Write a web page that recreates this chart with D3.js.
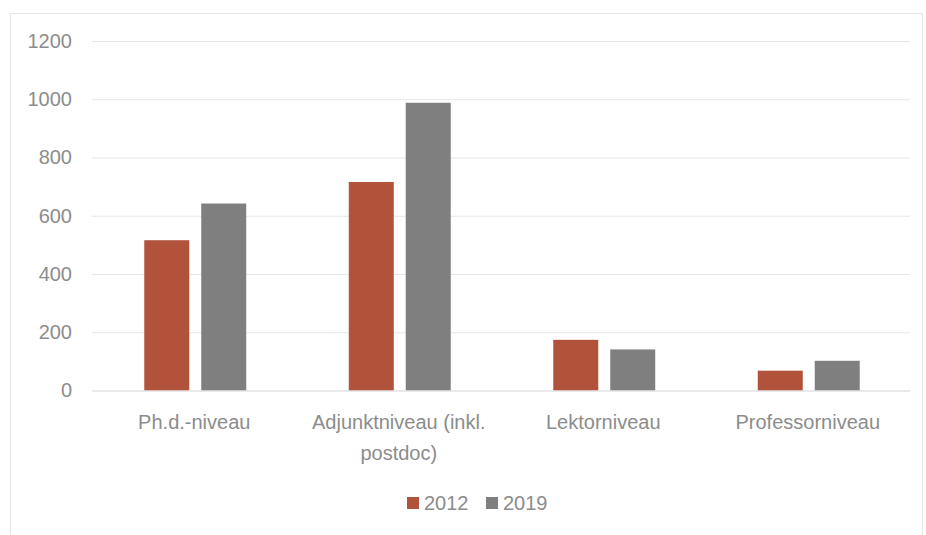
<!DOCTYPE html>
<html><head><meta charset="utf-8">
<script src="https://cdn.jsdelivr.net/npm/d3@7"></script>
<style>
html,body{margin:0;padding:0;background:#fff;}
svg{display:block;font-family:"Liberation Sans",Arial,sans-serif;}
</style></head>
<body>
<svg id="chart" width="926" height="535"></svg>
<script>
const categories = [["Ph.d.-niveau"], ["Adjunktniveau (inkl.", "postdoc)"], ["Lektorniveau"], ["Professorniveau"]];
const seriesNames = ["2012", "2019"];
const values2012 = [516, 716, 174, 68];
const values2019 = [642, 988, 141, 102];
const yTicks = [0, 200, 400, 600, 800, 1000, 1200];
const colors = ["#B0533A", "#7F7F7F"];

(function () {
const svg = d3.select("#chart");
const textColor = "#8c8c8c";

// outer frame
svg.append("rect").attr("x", 10.5).attr("y", 13.5).attr("width", 912).attr("height", 540)
  .attr("fill", "none").attr("stroke", "#e4e4e4").attr("stroke-width", 1);

const mLeft = 92, mRight = 910, mTop = 41, mBottom = 390.5;
const x0 = d3.scaleBand().domain(d3.range(categories.length)).range([mLeft, mRight]).paddingInner(0).paddingOuter(0);
const x1 = d3.scaleBand().domain(seriesNames).range([0, x0.bandwidth()]).paddingInner(0.21).paddingOuter(0.9);
const y = d3.scaleLinear().domain([0, 1200]).range([mBottom, mTop]);

// gridlines
const yAxis = d3.axisLeft(y).tickValues(yTicks).tickFormat(d3.format("d")).tickSize(-(mRight - mLeft)).tickPadding(20);
const gy = svg.append("g").attr("transform", `translate(${mLeft},0)`).call(yAxis);
gy.select(".domain").remove();
gy.selectAll(".tick line").attr("stroke", "#e6e6e6").attr("stroke-width", 1.2);
gy.selectAll(".tick text").attr("fill", textColor).style("font-size", "20px")
  .style("font-family", "'Liberation Sans',Arial,sans-serif");

// bars
const data = categories.map((c, i) => ({i, vals: [values2012[i], values2019[i]]}));
const groups = svg.append("g").selectAll("g").data(data).join("g")
  .attr("transform", d => `translate(${x0(d.i) + 1},0)`);
groups.selectAll("rect").data(d => d.vals.map((v, k) => ({k, v}))).join("rect")
  .attr("x", d => x1(seriesNames[d.k]))
  .attr("width", x1.bandwidth())
  .attr("y", d => y(d.v))
  .attr("height", d => y(0) - y(d.v))
  .attr("fill", d => colors[d.k]);

// x axis labels
const xAxis = d3.axisBottom(x0).tickSize(0).tickFormat(() => "");
const gx = svg.append("g").attr("transform", `translate(0,${mBottom})`).call(xAxis);
gx.select(".domain").attr("stroke", "#e0e0e0");
gx.selectAll(".tick").each(function(d) {
  const t = d3.select(this).append("text").attr("fill", textColor).attr("text-anchor", "middle")
    .style("font-size", "20px").style("font-family", "'Liberation Sans',Arial,sans-serif");
  categories[d].forEach((line, j) => {
    t.append("tspan").attr("x", 0).attr("y", 38 + j * 31).text(line);
  });
});

// legend
const legend = svg.append("g");
const legX = [407, 486];
seriesNames.forEach((s, k) => {
  legend.append("rect").attr("x", legX[k]).attr("y", 497).attr("width", 12).attr("height", 12).attr("fill", colors[k]);
  legend.append("text").attr("x", legX[k] + 17).attr("y", 510).attr("fill", textColor)
    .style("font-size", "20px").text(s);
});
})();
</script>
</body></html>
